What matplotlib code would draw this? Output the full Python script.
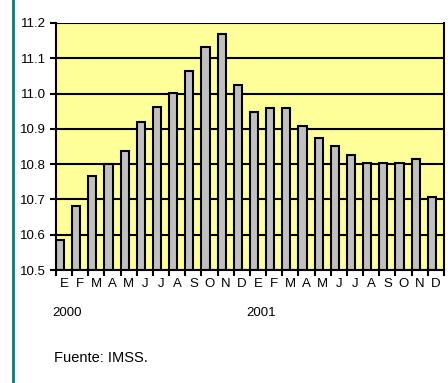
import numpy as np
from matplotlib import pyplot as plt
from matplotlib.lines import Line2D

plt.rcParams['font.family'] = ['Liberation Sans', 'DejaVu Sans']

meses = ['E', 'F', 'M', 'A', 'M', 'J', 'J', 'A', 'S', 'O', 'N', 'D',
         'E', 'F', 'M', 'A', 'M', 'J', 'J', 'A', 'S', 'O', 'N', 'D']
valores = [10.585, 10.68, 10.765, 10.80, 10.838, 10.918, 10.963, 11.003, 11.065, 11.133, 11.168, 11.025,
           10.947, 10.958, 10.958, 10.907, 10.874, 10.850, 10.827, 10.804, 10.804, 10.804, 10.815, 10.708]
años = ['2000', '2001']
y_ticks = [10.5, 10.6, 10.7, 10.8, 10.9, 11.0, 11.1, 11.2]

fig = plt.figure(figsize=(4.48, 3.83), dpi=100)
ax = fig.add_axes([0.125, 0.295, 0.866, 0.645])

x = np.arange(len(valores))
ax.set_facecolor('#FFFF99')
for yv in y_ticks:
    ax.axhline(yv, color='black', linewidth=1.5, zorder=1)
ax.bar(x - 0.5, np.array(valores) - 10.5, bottom=10.5, width=0.5, align='edge',
       color='#C0C0C0', edgecolor='black', linewidth=1.5, zorder=2)

ax.set_xlim(-0.5, len(valores) - 0.5)
ax.set_ylim(10.5, 11.2)
ax.set_yticks(y_ticks)
ax.set_yticklabels(['%.1f' % v for v in y_ticks], fontsize=9.5)
ax.set_xticks(x)
ax.set_xticklabels(meses, fontsize=9.5)
ax.set_xticks(np.arange(-0.5, len(valores), 1), minor=True)
ax.tick_params(axis='x', which='major', length=0, pad=6)
ax.tick_params(axis='x', which='minor', length=4, width=1.5, direction='out')
ax.tick_params(axis='y', length=4, width=1.5, direction='out', pad=3)
for s in ax.spines.values():
    s.set_linewidth(1.5)
ax.spines['top'].set_visible(False)

for i, a in enumerate(años):
    ax.text(i * 12 - 0.75, -0.175, a, transform=ax.get_xaxis_transform(),
            ha='left', va='center', fontsize=9.5)

fig.text(54 / 448, 1 - 358 / 383, 'Fuente: IMSS.', ha='left', va='center', fontsize=10.5)
fig.add_artist(Line2D([12.5 / 448, 12.5 / 448], [0, 1], transform=fig.transFigure,
                      color='#008080', linewidth=2))

fig.savefig('out.png', dpi=100)
